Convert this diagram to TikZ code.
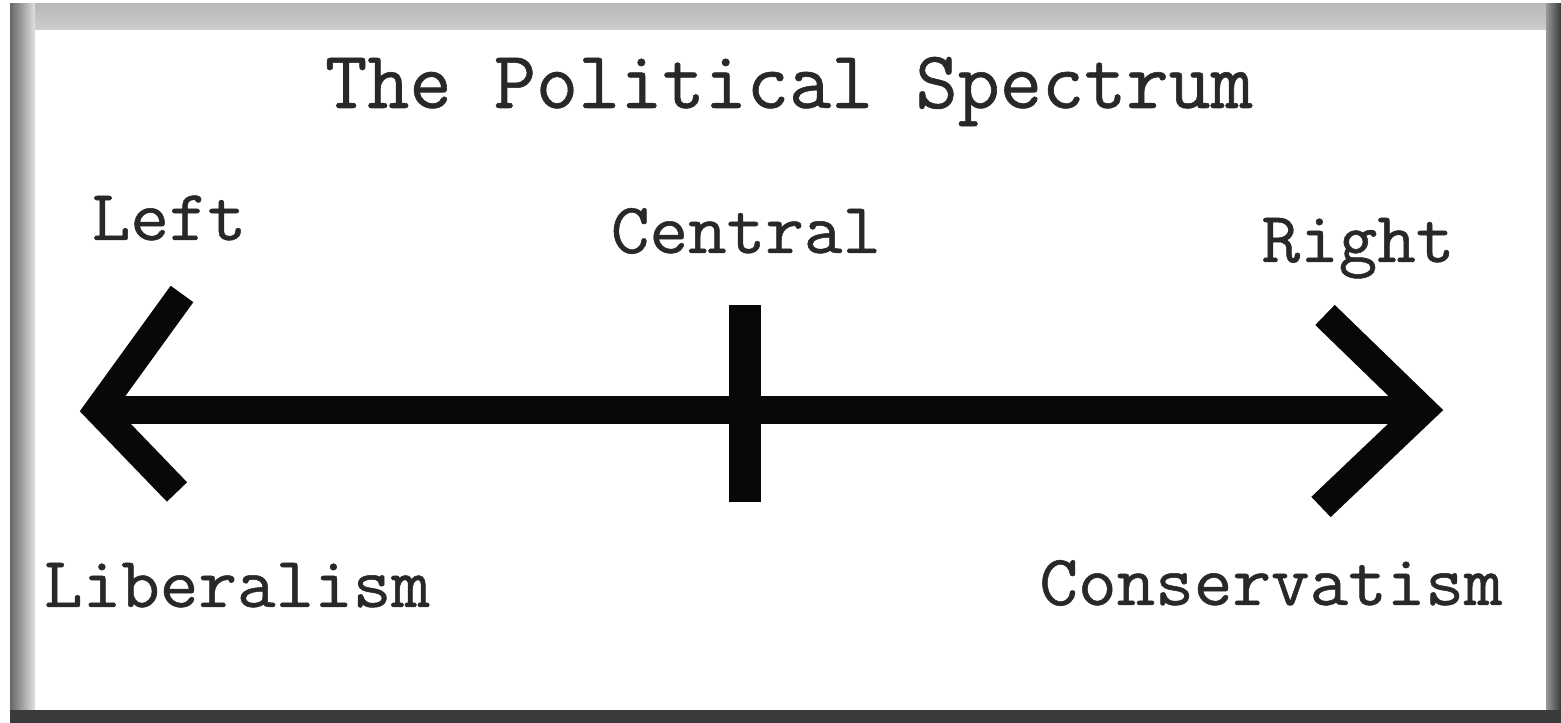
\documentclass[tikz,border=0pt]{standalone}
\usepackage{fontspec}
\usepackage{xcolor}
\usepackage{tikz}
\usetikzlibrary{positioning, calc}
\newfontfamily\titlefont[FakeBold=0.7]{Latin Modern Mono}
\newfontfamily\labelfont[FakeStretch=1.04,FakeBold=0.7]{Latin Modern Mono}
\definecolor{frameGray}{RGB}{184, 184, 184}
\definecolor{frameDark}{RGB}{58, 58, 58}
\definecolor{inkBlack}{RGB}{8, 8, 8}
\definecolor{textGray}{RGB}{40, 40, 40}

\begin{document}
\begin{tikzpicture}[
  title/.style={anchor=base, inner sep=0pt, text=textGray, font=\titlefont\fontsize{23.3}{28}\selectfont},
  sidelabel/.style={anchor=base, inner sep=0pt, text=textGray, font=\labelfont\fontsize{20.5}{25}\selectfont},
  spectrumline/.style={draw=inkBlack, line width=0.28cm, line cap=butt},
  arrowarm/.style={draw=inkBlack, line width=0.28cm, line cap=butt, line join=miter},
  tickmark/.style={draw=inkBlack, line width=0.32cm, line cap=butt}
]
  \useasboundingbox (0,0) rectangle (15.61,7.23);
  % frame
  \fill[white] (0,0) rectangle (15.61,7.23);
  \shade[top color=frameGray, bottom color=frameGray!70!white] (0.10,6.93) rectangle (15.48,7.19);
  \shade[left color=black!60, right color=black!12] (0.10,0.13) rectangle (0.35,7.19);
  \shade[left color=black!40, right color=frameDark] (15.46,0.13) rectangle (15.61,7.19);
  \fill[frameDark] (0.10,0) rectangle (15.61,0.13);

  % labels
  \node[title] (heading) at (7.89,6.15) {The Political Spectrum};
  \node[sidelabel] (left) at (1.69,4.83) {Left};
  \node[sidelabel] (central) at (7.46,4.70) {Central};
  \node[sidelabel] (right) at (13.58,4.61) {Right};
  \node[sidelabel] (liberal) at (2.37,1.16) {Liberalism};
  \node[sidelabel] (conserv) at (12.71,1.18) {Conservatism};

  % axis
  \coordinate (leftTip) at (0.98,3.13);
  \coordinate (rightTip) at (14.23,3.13);
  \coordinate (leftUp) at (1.82,4.29);
  \coordinate (leftDown) at (1.77,2.31);
  \coordinate (rightUp) at (13.25,4.08);
  \coordinate (rightDown) at (13.21,2.16);
  \coordinate (tickTop) at (7.45,4.18);
  \coordinate (tickBottom) at (7.45,2.21);

  \draw[spectrumline] (leftTip) -- (rightTip);
  \draw[arrowarm] (leftUp) -- (leftTip) -- (leftDown);
  \draw[arrowarm] (rightUp) -- (rightTip) -- (rightDown);
  \draw[tickmark] (tickTop) -- (tickBottom);
\end{tikzpicture}
\end{document}
